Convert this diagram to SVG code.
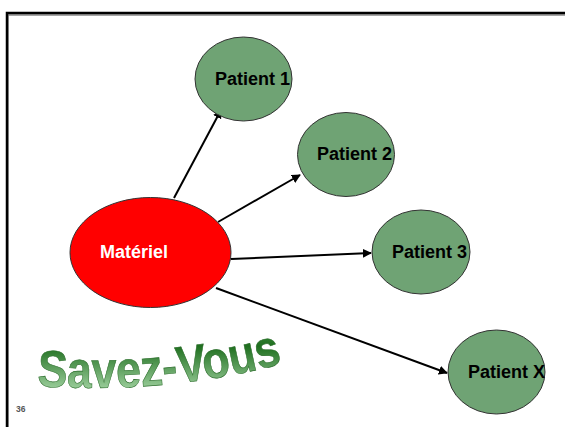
<svg xmlns="http://www.w3.org/2000/svg" width="565" height="427" viewBox="0 0 565 427">
<style>
.pat{fill:#6fa374;stroke:#333;stroke-width:1}
.pt{font-family:"Liberation Sans",Arial,sans-serif;font-weight:bold;font-size:18px;fill:#000}
.conn{stroke:#000;stroke-width:2;fill:none;marker-end:url(#ah)}
</style>
<defs>
<marker id="ah" viewBox="0 0 10 10" refX="9" refY="5" markerWidth="4.5" markerHeight="4.5" orient="auto" markerUnits="strokeWidth">
<path d="M0,0 L10,5 L0,10 z" fill="#000"/>
</marker>
<linearGradient id="wg" x1="0" y1="0" x2="0" y2="1">
<stop offset="0" stop-color="#4f9a4f"/>
<stop offset="0.35" stop-color="#1f6f1f"/>
<stop offset="1" stop-color="#b8e4b8"/>
</linearGradient>
<path id="arc" d="M37,386 Q170,395 287,362"/>
</defs>
<rect width="565" height="427" fill="#fff"/>
<g id="frame">
<path d="M8,427 V15 H565" fill="none" stroke="#888" stroke-width="1.5"/>
<path d="M7,427 V13 H565" fill="none" stroke="#000" stroke-width="2.5"/>
</g>
<g id="connectors">
<line class="conn" x1="174" y1="198" x2="221" y2="110"/>
<line class="conn" x1="218" y1="222" x2="300" y2="175"/>
<line class="conn" x1="231" y1="259" x2="371" y2="253"/>
<line class="conn" x1="216" y1="288" x2="447" y2="373"/>
</g>
<g id="materiel">
<ellipse cx="150.5" cy="252.5" rx="80.5" ry="55" fill="#ff0000" stroke="#333" stroke-width="1"/>
<text x="100" y="258" class="pt" style="fill:#fff">Matériel</text>
</g>
<g id="patient1">
<ellipse class="pat" cx="243.5" cy="79" rx="48.5" ry="42"/>
<text x="215" y="85" class="pt">Patient 1</text>
</g>
<g id="patient2">
<ellipse class="pat" cx="346" cy="154.5" rx="48.5" ry="42"/>
<text x="317" y="160" class="pt">Patient 2</text>
</g>
<g id="patient3">
<ellipse class="pat" cx="421" cy="252" rx="49" ry="42"/>
<text x="392" y="258" class="pt">Patient 3</text>
</g>
<g id="patientX">
<ellipse class="pat" cx="496.5" cy="372" rx="48.5" ry="42"/>
<text x="468" y="378" class="pt">Patient X</text>
</g>
<g id="wordart">
<text font-family="'Liberation Sans',Arial,sans-serif" font-weight="bold" font-size="52" fill="url(#wg)" stroke="#2d6e2d" stroke-width="0.6"><textPath href="#arc" textLength="248" lengthAdjust="spacingAndGlyphs">Savez-Vous</textPath></text>
</g>
<text x="16" y="412" font-family="'Liberation Sans',Arial,sans-serif" font-weight="bold" font-size="8.5" fill="#555">36</text>
</svg>
